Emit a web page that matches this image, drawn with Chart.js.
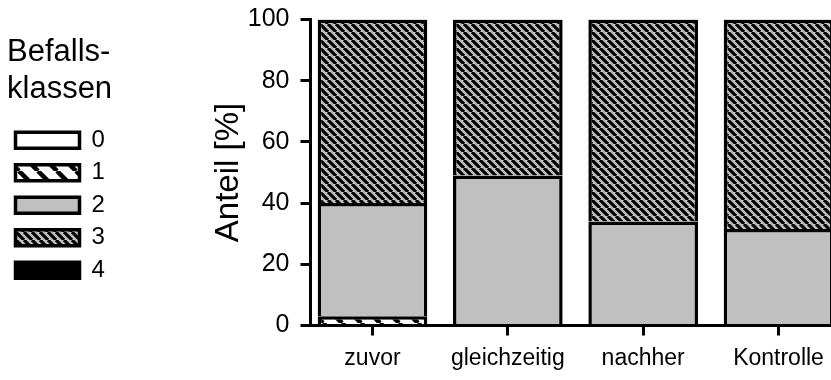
<!DOCTYPE html>
<html lang="de">
<head>
  <meta charset="UTF-8">
  <title>Befallsklassen</title>
  <script src="https://cdn.jsdelivr.net/npm/chart.js"></script>
  <style>
    html, body { margin: 0; padding: 0; background: #fff; overflow: hidden; }
    #befall { display: block; }
  </style>
</head>
<body>
  <canvas id="befall" width="850" height="380"></canvas>

  <script>
    // Gruppen auf der x-Achse
    const gruppen = ['zuvor', 'gleichzeitig', 'nachher', 'Kontrolle'];
    const klassen = ['0', '1', '2', '3', '4'];

    // Anteil [%] je Befallsklasse
    const klasse0 = [0, 0, 0, 0];
    const klasse1 = [3, 0, 0, 0];
    const klasse2 = [37, 49, 34, 31.5];
    const klasse3 = [60, 51, 66, 68.5];
    const klasse4 = [0, 0, 0, 0];

    const yTicks = [0, 20, 40, 60, 80, 100];

    const schrift = "'Liberation Sans', Arial, sans-serif";

    // Schraffur: schwarze Diagonalen auf Grundfarbe
    function schraffur(grund, abstand, dicke) {
      const c = document.createElement('canvas');
      c.width = c.height = abstand;
      const g = c.getContext('2d');
      g.fillStyle = grund;
      g.fillRect(0, 0, abstand, abstand);
      g.strokeStyle = '#000';
      g.lineWidth = dicke;
      g.beginPath();
      for (const o of [-abstand, 0, abstand]) {
        g.moveTo(o, 0);
        g.lineTo(o + abstand, abstand);
      }
      g.stroke();
      return g.createPattern(c, 'repeat');
    }

    const fuellung = [
      '#ffffff',
      schraffur('#ffffff', 19, 4.5),
      '#c0c0c0',
      schraffur('#c0c0c0', 8, 3.2),
      '#000000'
    ];
    const werte = [klasse0, klasse1, klasse2, klasse3, klasse4];

    const ctx = document.getElementById('befall').getContext('2d');
    new Chart(ctx, {
      type: 'bar',
      data: {
        labels: gruppen.map((g, i) => i),
        datasets: klassen.map((k, i) => ({
          label: k,
          data: werte[i],
          backgroundColor: fuellung[i],
          borderColor: '#000',
          borderWidth: 3.5,
          categoryPercentage: 0.9,
          barPercentage: 0.9
        }))
      },
      options: {
        responsive: false,
        animation: false,
        layout: { padding: { left: 7, top: 19.5, right: 3.8, bottom: 0 } },
        plugins: {
          tooltip: { enabled: false },
          legend: {
            position: 'left',
            align: 'start',
            title: {
              display: true,
              text: ['Befalls-', 'klassen'],
              position: 'start',
              color: '#000',
              font: { family: schrift, size: 31, lineHeight: 1.2 },
              padding: { top: 17, bottom: 46 }
            },
            labels: {
              color: '#000',
              font: { family: schrift, size: 24 },
              boxWidth: 64,
              boxHeight: 16,
              padding: 8.5,
              generateLabels: chart => Chart.defaults.plugins.legend.labels.generateLabels(chart)
                .map(item => Object.assign(item, { lineWidth: 3.5 }))
            }
          }
        },
        scales: {
          x: {
            type: 'linear',
            stacked: true,
            offset: false,
            min: -0.458,
            max: 3.5,
            afterBuildTicks: s => { s.ticks = gruppen.map((g, i) => ({ value: i })); },
            afterFit: s => { s.height = 54.5; },
            ticks: {
              callback: v => gruppen[v],
              color: '#000',
              font: { family: schrift, size: 23 },
              padding: 9,
              maxRotation: 0,
              autoSkip: false
            },
            grid: { offset: false, drawOnChartArea: false, tickLength: 10, lineWidth: 3, color: '#000' },
            border: { color: '#000', width: 3 }
          },
          y: {
            stacked: true,
            min: 0,
            max: 100,
            afterBuildTicks: s => { s.ticks = yTicks.map(v => ({ value: v })); },
            afterFit: s => {
              s.width = 310.5 - 7 - s.chart.legend.width;
              s.paddingTop = 0;
              s.paddingBottom = 0;
            },
            ticks: {
              color: '#000',
              font: { family: schrift, size: 25 },
              padding: 11
            },
            title: {
              display: true,
              text: 'Anteil [%]',
              color: '#000',
              font: { family: schrift, size: 33 },
              padding: { top: 94, bottom: 0 }
            },
            grid: { drawOnChartArea: false, tickLength: 10, lineWidth: 3, color: '#000' },
            border: { color: '#000', width: 3 }
          }
        }
      }
    });
  </script>
</body>
</html>
